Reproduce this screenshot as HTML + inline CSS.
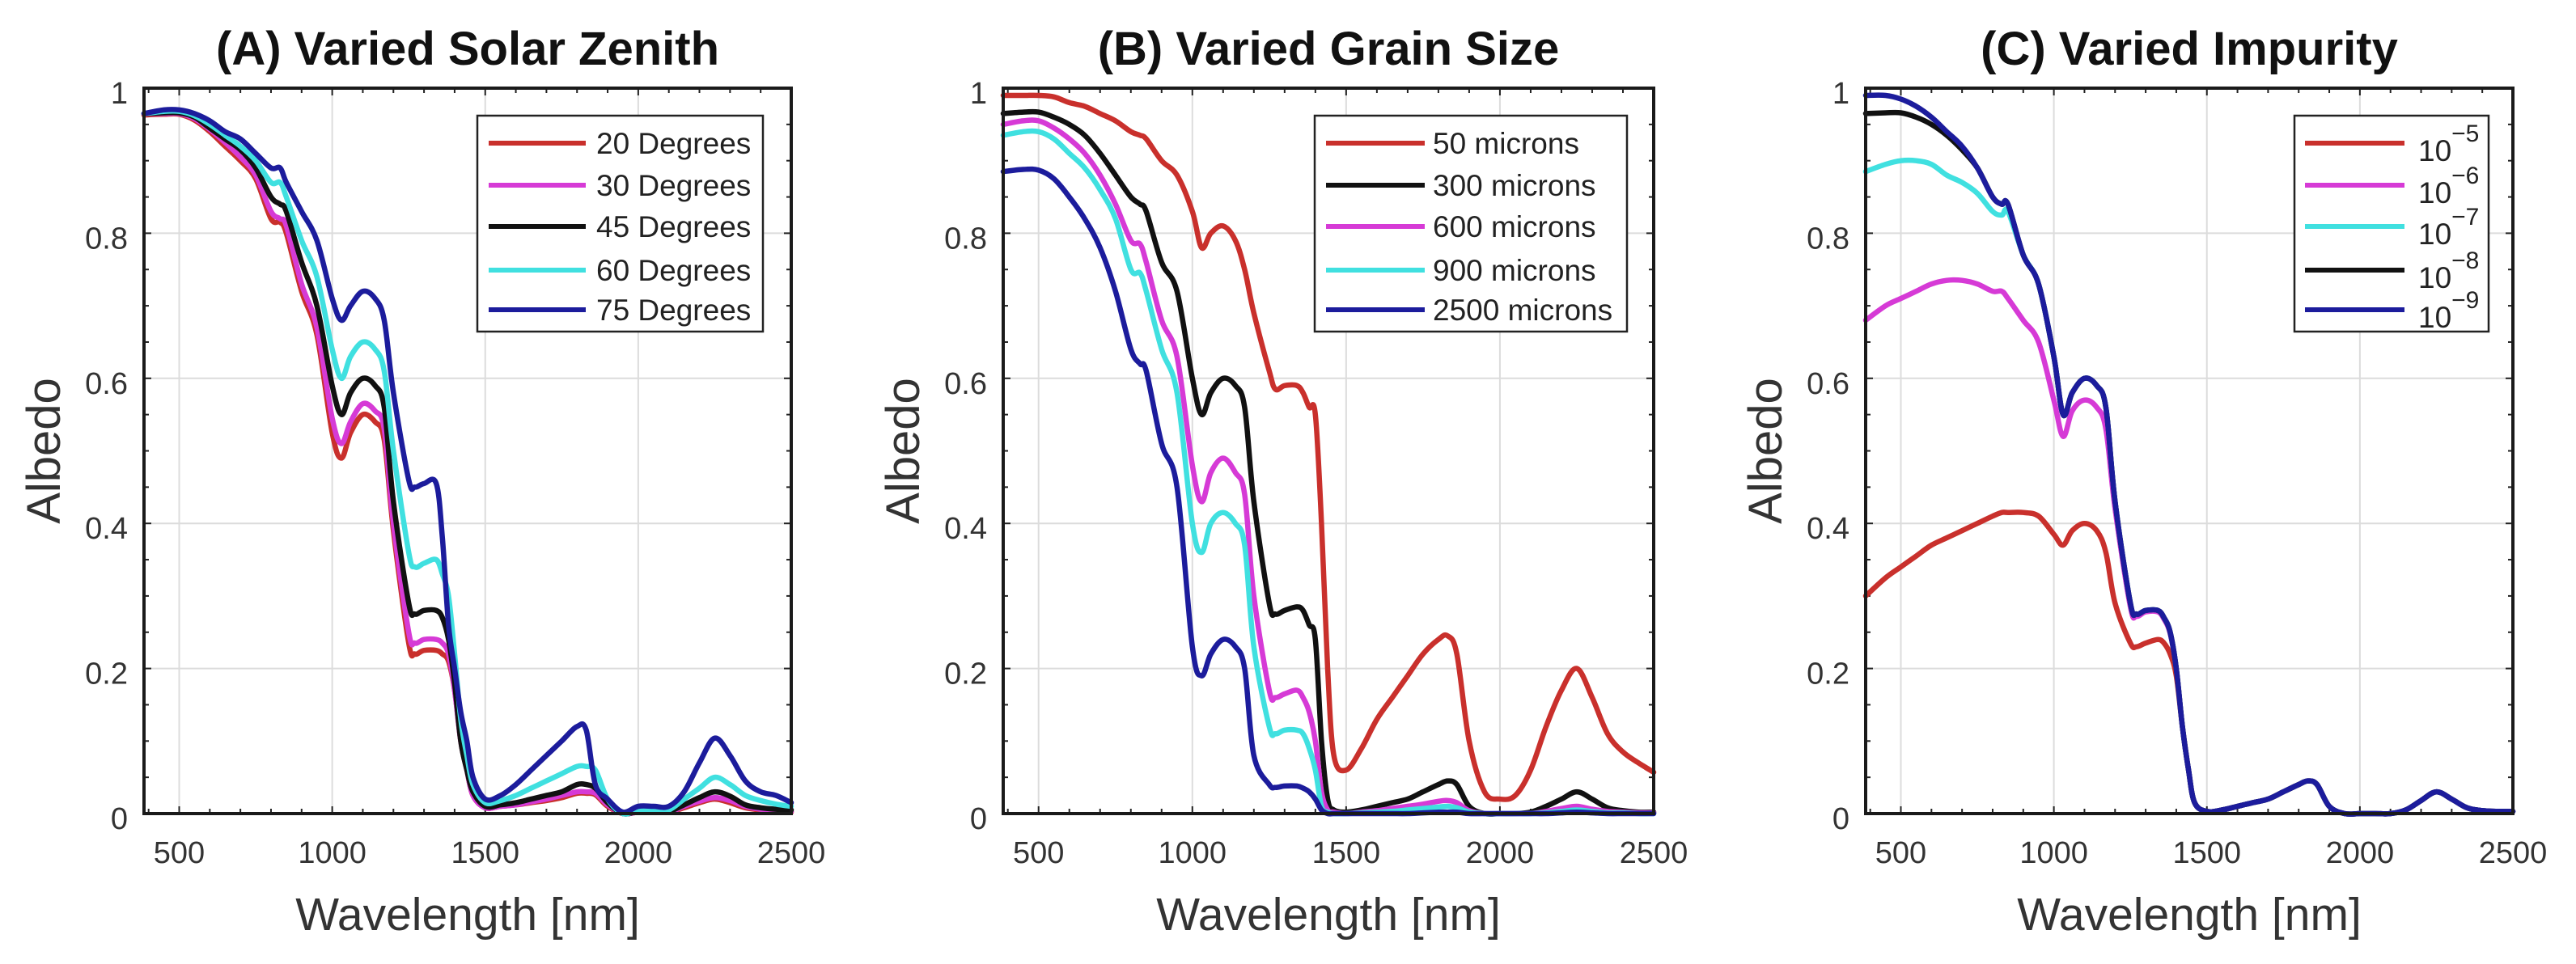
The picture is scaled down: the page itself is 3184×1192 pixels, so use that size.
<!DOCTYPE html>
<html><head><meta charset="utf-8"><style>
html,body{margin:0;padding:0;background:#fff;}
svg{display:block;font-family:"Liberation Sans",Arial,sans-serif;}
</style></head><body>
<svg id="fig" width="3184" height="1192" viewBox="0 0 3184 1192" xmlns="http://www.w3.org/2000/svg"></svg>
<script>
const wavelengths=[385,450,500,550,600,650,700,750,800,830,850,900,950,1000,1030,1060,1100,1140,1170,1200,1250,1270,1300,1340,1360,1380,1400,1420,1440,1460,1500,1550,1600,1650,1700,1750,1800,1830,1860,1900,1950,2000,2050,2100,2150,2200,2250,2300,2350,2400,2450,2500];
const xTicks=[500,1000,1500,2000,2500];
const yTicks=[0,0.2,0.4,0.6,0.8,1];
const yTickLabels=["0","0.2","0.4","0.6","0.8","1"];
// Panel A
const aLabels=["20 Degrees","30 Degrees","45 Degrees","60 Degrees","75 Degrees"];
const aDeg20=[.963,.964,.964,.956,.94,.92,.90,.875,.82,.815,.80,.72,.66,.525,.49,.525,.55,.54,.515,.39,.235,.22,.225,.225,.22,.21,.17,.1,.06,.025,.008,.01,.012,.015,.018,.022,.028,.028,.026,.01,0,.002,.002,.002,.008,.015,.02,.015,.008,.005,.003,.002];
const aDeg30=[.965,.965,.965,.958,.943,.925,.905,.88,.83,.82,.81,.73,.67,.545,.51,.54,.565,.555,.53,.40,.25,.235,.24,.24,.235,.22,.17,.1,.06,.025,.008,.01,.012,.016,.02,.025,.03,.03,.028,.012,0,.002,.002,.002,.01,.017,.022,.018,.01,.006,.004,.003];
const aDeg45=[.965,.966,.966,.96,.945,.93,.915,.89,.85,.84,.83,.76,.70,.59,.55,.58,.60,.59,.56,.43,.29,.275,.28,.28,.27,.24,.18,.1,.06,.03,.01,.012,.015,.02,.025,.03,.04,.04,.035,.015,0,.003,.003,.003,.012,.022,.03,.024,.012,.008,.006,.005];
const aDeg60=[.965,.968,.968,.962,.95,.935,.92,.90,.87,.87,.85,.79,.74,.64,.60,.63,.65,.64,.61,.50,.36,.34,.345,.35,.33,.30,.22,.13,.08,.04,.015,.018,.025,.035,.045,.055,.065,.065,.06,.02,0,.005,.005,.005,.02,.035,.05,.04,.025,.018,.013,.01];
const aDeg75=[.965,.97,.97,.965,.955,.94,.93,.91,.89,.89,.87,.83,.79,.71,.68,.70,.72,.71,.68,.58,.46,.45,.455,.455,.38,.26,.2,.14,.1,.05,.02,.025,.04,.06,.08,.1,.12,.115,.04,.02,.002,.01,.01,.01,.03,.07,.104,.08,.045,.03,.025,.015];
// Panel B
const bLabels=["50 microns","300 microns","600 microns","900 microns","2500 microns"];
const b50=[.99,.99,.99,.988,.98,.975,.965,.955,.94,.935,.93,.9,.88,.83,.78,.80,.81,.79,.75,.69,.61,.585,.59,.59,.58,.56,.55,.4,.2,.08,.06,.09,.13,.16,.19,.22,.24,.245,.22,.1,.03,.02,.025,.06,.12,.17,.2,.16,.11,.085,.07,.057];
const b300=[.965,.967,.967,.96,.95,.935,.91,.88,.85,.84,.83,.76,.72,.60,.55,.58,.60,.59,.56,.43,.29,.275,.28,.285,.28,.26,.24,.1,.02,.005,.002,.005,.01,.015,.02,.03,.04,.045,.04,.01,0,0,0,.002,.01,.02,.03,.02,.008,.004,.002,.002];
const b600=[.95,.955,.955,.945,.93,.91,.88,.84,.79,.785,.76,.68,.63,.48,.43,.47,.49,.47,.44,.30,.17,.16,.165,.17,.16,.14,.1,.03,.005,.002,0,.002,.004,.007,.01,.013,.017,.018,.015,.004,0,0,0,0,.003,.007,.01,.006,.003,.002,.001,.001];
const b900=[.935,.94,.94,.93,.91,.89,.86,.82,.75,.745,.72,.64,.58,.40,.36,.40,.415,.40,.37,.23,.12,.11,.115,.115,.11,.09,.06,.01,.002,0,0,.001,.002,.003,.005,.007,.009,.01,.008,.002,0,0,0,0,.001,.003,.005,.003,.001,.001,0,0];
const b2500=[.885,.888,.887,.875,.85,.82,.78,.72,.64,.62,.61,.51,.45,.23,.19,.22,.24,.23,.20,.08,.04,.036,.038,.038,.035,.03,.02,.005,0,0,0,0,0,0,0,.001,.002,.002,.002,0,0,0,0,0,0,.001,.002,.001,0,0,0,0];
// Panel C
const cLabels=["−5","−6","−7","−8","−9"];
const cImp5=[.30,.325,.34,.355,.37,.38,.39,.40,.41,.415,.415,.415,.41,.385,.37,.39,.40,.39,.36,.29,.235,.23,.235,.24,.235,.22,.19,.12,.06,.015,.003,.005,.01,.015,.02,.03,.04,.045,.04,.01,0,0,0,0,.005,.018,.03,.02,.008,.004,.003,.003];
const cImp6=[.68,.70,.71,.72,.73,.735,.735,.73,.72,.72,.71,.68,.65,.57,.52,.555,.57,.56,.53,.42,.285,.272,.278,.278,.268,.248,.2,.12,.06,.015,.003,.005,.01,.015,.02,.03,.04,.045,.04,.01,0,0,0,0,.005,.018,.03,.02,.008,.004,.003,.003];
const cImp7=[.885,.895,.9,.9,.895,.88,.87,.855,.83,.825,.83,.77,.73,.63,.55,.58,.60,.59,.56,.43,.29,.275,.28,.28,.27,.25,.2,.12,.06,.015,.003,.005,.01,.015,.02,.03,.04,.045,.04,.01,0,0,0,0,.005,.018,.03,.02,.008,.004,.003,.003];
const cImp8=[.965,.966,.966,.96,.95,.935,.915,.89,.85,.84,.84,.77,.73,.63,.55,.58,.60,.59,.56,.43,.29,.275,.28,.28,.27,.25,.2,.12,.06,.015,.003,.005,.01,.015,.02,.03,.04,.045,.04,.01,0,0,0,0,.005,.018,.03,.02,.008,.004,.003,.003];
const cImp9=[.99,.99,.985,.975,.96,.94,.92,.89,.85,.84,.84,.77,.73,.63,.55,.58,.60,.59,.56,.43,.29,.275,.28,.28,.27,.25,.2,.12,.06,.015,.003,.005,.01,.015,.02,.03,.04,.045,.04,.01,0,0,0,0,.005,.018,.03,.02,.008,.004,.003,.003];

const RED="#c9302c",MAG="#d63ad6",BLK="#111111",CYA="#40e0e0",NAV="#1c1c9c";
const NS="http://www.w3.org/2000/svg";
const svg=document.getElementById('fig');
function mk(tag,attrs,parent){const e=document.createElementNS(NS,tag);for(const k in attrs)e.setAttribute(k,attrs[k]);(parent||svg).appendChild(e);return e;}
function smooth(pts){
 let d='M'+pts[0][0].toFixed(1)+','+pts[0][1].toFixed(1);
 for(let i=0;i<pts.length-1;i++){
  const p0=pts[Math.max(0,i-1)],p1=pts[i],p2=pts[i+1],p3=pts[Math.min(pts.length-1,i+2)];
  const k=0.17;
  const c1=[p1[0]+(p2[0]-p0[0])*k,p1[1]+(p2[1]-p0[1])*k];
  const c2=[p2[0]-(p3[0]-p1[0])*k,p2[1]-(p3[1]-p1[1])*k];
  d+='C'+c1[0].toFixed(1)+','+c1[1].toFixed(1)+' '+c2[0].toFixed(1)+','+c2[1].toFixed(1)+' '+p2[0].toFixed(1)+','+p2[1].toFixed(1);
 }
 return d;
}

const panels=[
 {id:"a",title:"(A) Varied Solar Zenith",left:178,right:978,series:[aDeg20,aDeg30,aDeg45,aDeg60,aDeg75],colors:[RED,MAG,BLK,CYA,NAV],labels:aLabels,leg:{x:590,w:353,line:[604,724],tx:737},sup:false},
 {id:"b",title:"(B) Varied Grain Size",left:1240,right:2044,series:[b50,b300,b600,b900,b2500],colors:[RED,BLK,MAG,CYA,NAV],labels:bLabels,leg:{x:1625,w:386,line:[1639,1761],tx:1771},sup:false},
 {id:"c",title:"(C) Varied Impurity",left:2306,right:3106,series:[cImp5,cImp6,cImp7,cImp8,cImp9],colors:[RED,MAG,CYA,BLK,NAV],labels:cLabels,leg:{x:2836,w:240,line:[2849,2972],tx:2989},sup:true}
];
const TOP=109,BOT=1006,XMIN=385,XMAX=2500;

panels.forEach(p=>{
 const g=mk('g',{});
 
 
 const X=v=>p.left+(v-XMIN)/(XMAX-XMIN)*(p.right-p.left);
 const Y=v=>BOT-v*(BOT-TOP);
 xTicks.forEach(t=>{const l=mk('line',{x1:X(t),x2:X(t),y1:TOP,y2:BOT,stroke:"#dcdcdc","stroke-width":2},g);
  
  });
 yTicks.forEach(t=>{const l=mk('line',{x1:p.left,x2:p.right,y1:Y(t),y2:Y(t),stroke:"#dcdcdc","stroke-width":2},g);
  
  });
 for(let v=400;v<=2500;v+=100){const maj=v%500===0;const L=maj?9:6;
  mk('line',{x1:X(v),x2:X(v),y1:BOT,y2:BOT-L,stroke:"#222","stroke-width":2},g);
  mk('line',{x1:X(v),x2:X(v),y1:TOP,y2:TOP+L,stroke:"#222","stroke-width":2},g);}
 for(let i=0;i<=20;i++){const v=i*0.05;const L=(i%4===0)?9:6;
  mk('line',{x1:p.left,x2:p.left+L,y1:Y(v),y2:Y(v),stroke:"#222","stroke-width":2},g);
  mk('line',{x1:p.right,x2:p.right-L,y1:Y(v),y2:Y(v),stroke:"#222","stroke-width":2},g);}
 p.series.forEach((s,i)=>{
  const pts=s.map((v,j)=>[X(wavelengths[j]),Y(v)]);
  const path=mk('path',{d:smooth(pts),fill:"none",stroke:p.colors[i],"stroke-width":6.5,"stroke-linejoin":"round","stroke-linecap":"round"},g);
  
  
 });
 const box=mk('rect',{x:p.left,y:TOP,width:p.right-p.left,height:BOT-TOP,fill:"none",stroke:"#1a1a1a","stroke-width":4},g);
 
 
 xTicks.forEach(t=>{const tx=mk('text',{x:X(t),y:1067,"font-size":38,fill:"#333","text-anchor":"middle"},g);tx.textContent=t;
  
  });
 yTicks.forEach((t,i)=>{const tx=mk('text',{x:p.left-20,y:Y(t)+19,"font-size":38,fill:"#333","text-anchor":"end"},g);tx.textContent=yTickLabels[i];
  
  });
 const cx=(p.left+p.right)/2;
 const xt=mk('text',{x:cx,y:1150,"font-size":57,fill:"#333","text-anchor":"middle"},g);xt.textContent="Wavelength [nm]";
 
 
 const yx=p.left-104,yy=(TOP+BOT)/2;
 const yt=mk('text',{x:yx,y:yy,"font-size":58,fill:"#333","text-anchor":"middle",transform:`rotate(-90 ${yx} ${yy})`},g);yt.textContent="Albedo";
 
 
 const tt=mk('text',{x:cx,y:80,"font-size":58,"font-weight":"bold",fill:"#111","text-anchor":"middle"},g);tt.textContent=p.title;
 
 
 const lg=mk('g',{},g);
 
 
 mk('rect',{x:p.leg.x,y:143,width:p.leg.w,height:267,fill:"#fff",stroke:"#222","stroke-width":2.5},lg);
 const rows=[177,229,280,334,383];
 p.labels.forEach((lab,i)=>{
  const ent=mk('g',{},lg);
  
  
  mk('line',{x1:p.leg.line[0],x2:p.leg.line[1],y1:rows[i],y2:rows[i],stroke:p.colors[i],"stroke-width":6},ent);
  const t=mk('text',{x:p.leg.tx,y:rows[i]+13,"font-size":37,fill:"#222"},ent);
  if(p.sup){
    t.setAttribute('y',rows[i]+22);
    const a=mk('tspan',{},t);a.textContent="10";
    const b=mk('tspan',{dy:-24,"font-size":30},t);b.textContent=lab;
  } else t.textContent=lab;
 });
});
</script>
</body></html>
